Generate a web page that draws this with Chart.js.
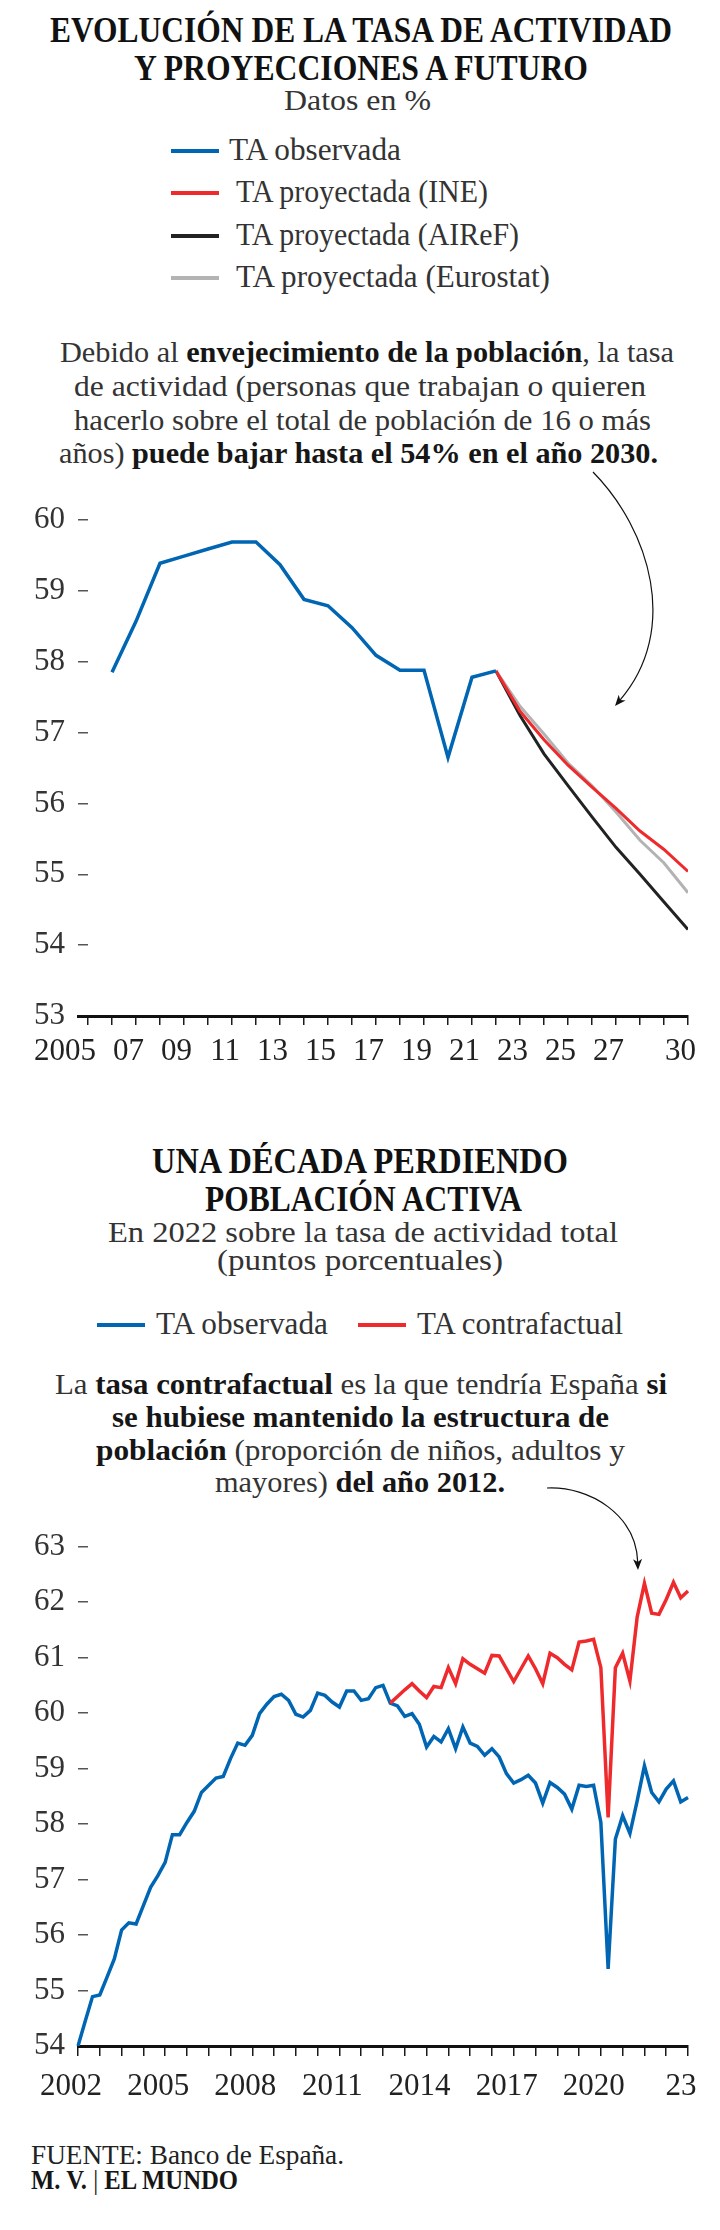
<!DOCTYPE html>
<html><head><meta charset="utf-8">
<script src="https://cdn.jsdelivr.net/npm/chart.js@4.4.1/dist/chart.umd.min.js"></script>
<style>
html,body{margin:0;padding:0;background:#fff;}
#page{position:relative;width:720px;height:2230px;overflow:hidden;background:#fff;font-family:'Liberation Serif',serif;color:#333;}
.t{position:absolute;white-space:nowrap;line-height:1;transform-origin:0 0;}
.t b{font-weight:700;color:#161616;}
.ttl{font-weight:700;color:#111;}
.sw{position:absolute;height:4px;width:48px;}
.cv{position:absolute;left:0;}
svg{position:absolute;left:0;top:0;}
</style></head>
<body><div id="page">

<div class="t ttl" style="left:50px;top:12.7px;font-size:35px" data-w="622">EVOLUCIÓN DE LA TASA DE ACTIVIDAD</div>
<div class="t ttl" style="left:134px;top:50.7px;font-size:35px" data-w="454">Y PROYECCIONES A FUTURO</div>
<div class="t" style="left:284px;top:85px;font-size:30px" data-w="147">Datos en %</div>

<div class="sw" style="left:171px;top:149px;background:#0065b3"></div>
<div class="t" style="left:229px;top:134px;font-size:31px" data-w="172">TA observada</div>
<div class="sw" style="left:171px;top:191px;background:#ee2a2d"></div>
<div class="t" style="left:236px;top:176px;font-size:31px" data-w="252">TA proyectada (INE)</div>
<div class="sw" style="left:171px;top:234px;background:#222"></div>
<div class="t" style="left:236px;top:219px;font-size:31px" data-w="283">TA proyectada (AIReF)</div>
<div class="sw" style="left:171px;top:276px;background:#b3b3b3"></div>
<div class="t" style="left:236px;top:261px;font-size:31px" data-w="314">TA proyectada (Eurostat)</div>

<div class="t" style="left:60px;top:336.9px;font-size:30px" data-w="614">Debido al <b>envejecimiento de la población</b>, la tasa</div>
<div class="t" style="left:74px;top:370.9px;font-size:30px" data-w="572">de actividad (personas que trabajan o quieren</div>
<div class="t" style="left:74px;top:404.9px;font-size:30px" data-w="577">hacerlo sobre el total de población de 16 o más</div>
<div class="t" style="left:59px;top:437.9px;font-size:30px" data-w="599">años) <b>puede bajar hasta el 54% en el año 2030.</b></div>

<div class="cv" style="top:480px;width:720px;height:600px"><canvas id="c1" width="720" height="600"></canvas></div>

<div class="t ttl" style="left:152px;top:1143.7px;font-size:35px" data-w="416">UNA DÉCADA PERDIENDO</div>
<div class="t ttl" style="left:205px;top:1181.7px;font-size:35px" data-w="317">POBLACIÓN ACTIVA</div>
<div class="t" style="left:108px;top:1217px;font-size:30px" data-w="510">En 2022 sobre la tasa de actividad total</div>
<div class="t" style="left:217px;top:1245px;font-size:30px" data-w="286">(puntos porcentuales)</div>

<div class="sw" style="left:97px;top:1323px;background:#0065b3"></div>
<div class="t" style="left:156px;top:1308px;font-size:31px" data-w="172">TA observada</div>
<div class="sw" style="left:358px;top:1323px;background:#ee2a2d"></div>
<div class="t" style="left:417px;top:1308px;font-size:31px" data-w="206">TA contrafactual</div>

<div class="t" style="left:55px;top:1368.9px;font-size:30px" data-w="612">La <b>tasa contrafactual</b> es la que tendría España <b>si</b></div>
<div class="t" style="left:112px;top:1401.9px;font-size:30px" data-w="497"><b>se hubiese mantenido la estructura de</b></div>
<div class="t" style="left:96px;top:1434.9px;font-size:30px" data-w="529"><b>población</b> (proporción de niños, adultos y</div>
<div class="t" style="left:215px;top:1466.9px;font-size:30px" data-w="290">mayores) <b>del año 2012.</b></div>

<div class="cv" style="top:1510px;width:720px;height:610px"><canvas id="c2" width="720" height="610"></canvas></div>

<div class="t" style="left:31px;top:2142.4px;font-size:27px;color:#222" data-w="313">FUENTE: Banco de España.</div>
<div class="t" style="left:31px;top:2167.4px;font-size:27px;color:#111" data-w="207"><b>M. V.</b> | <b>EL MUNDO</b></div>

<svg width="720" height="2230" viewBox="0 0 720 2230">
  <path d="M593,472 C650,530 680,630 620.2,699.9" fill="none" stroke="#111" stroke-width="1.2"/>
  <polygon points="615,706 625.6,700.6 620.2,699.9 618.7,694.7" fill="#111"/>
  <path d="M547,1488 C590,1486 636,1515 637.7,1562" fill="none" stroke="#111" stroke-width="1.2"/>
  <polygon points="638,1570 642.1,1558.8 637.7,1562 633.1,1559.2" fill="#111"/>
</svg>
</div>

<script>
// ---------- Chart 1 data ----------
const obsYears1 = [2006,2007,2008,2009,2010,2011,2012,2013,2014,2015,2016,2017,2018,2019,2020,2021,2022];
const obsValues1 = [57.85,58.57,59.39,59.49,59.59,59.69,59.69,59.37,58.88,58.79,58.48,58.09,57.88,57.88,56.65,57.78,57.87];
const projYears1 = [2022,2023,2024,2025,2026,2027,2028,2029,2030];
const ineValues1 = [57.87,57.30,56.90,56.54,56.23,55.93,55.61,55.35,55.04];
const airefValues1 = [57.87,57.24,56.70,56.25,55.81,55.38,55.00,54.61,54.22];
const eurostatValues1 = [57.87,57.37,56.98,56.57,56.25,55.88,55.48,55.16,54.74];
const xLabelYears1 = [2005,2007,2009,2011,2013,2015,2017,2019,2021,2023,2025,2027,2030];
const xLabelText1 = ['2005','07','09','11','13','15','17','19','21','23','25','27','30'];
const yTicks1 = [53,54,55,56,57,58,59,60];

// ---------- Chart 2 data (quarterly, 2002T1 - 2023T1) ----------
const firstYear2 = 2002;
const quarterCount2 = 85;
const observed2 = [
 54.00,54.45,54.89,54.92,55.24,55.57,56.09,56.22,56.20,56.53,
 56.86,57.07,57.31,57.81,57.81,58.03,58.23,58.57,58.70,58.83,
 58.86,59.18,59.46,59.42,59.60,59.99,60.16,60.30,60.34,60.23,
 59.98,59.93,60.05,60.36,60.32,60.20,60.11,60.40,60.40,60.23,
 60.26,60.46,60.50,60.18,60.13,59.94,59.99,59.80,59.39,59.58,
 59.48,59.72,59.36,59.75,59.46,59.40,59.24,59.36,59.21,58.91,
 58.74,58.80,58.88,58.74,58.38,58.75,58.66,58.54,58.27,58.70,
 58.68,58.70,58.03,55.39,57.73,58.15,57.83,58.42,59.05,58.57,
 58.40,58.63,58.78,58.40,58.48];
const counterfactualStart2 = 43;
const counterfactual2 = [
 60.18,60.30,60.42,60.53,60.40,60.28,60.48,60.46,60.82,60.53,
 60.98,60.88,60.80,60.72,61.04,61.03,60.80,60.57,60.80,61.03,
 60.80,60.53,61.08,61.00,60.88,60.78,61.28,61.30,61.33,60.82,
 58.12,60.82,61.08,60.58,61.73,62.34,61.80,61.78,62.05,62.36,
 62.08,62.20];
const xLabelYears2 = [2002,2005,2008,2011,2014,2017,2020,2023];
const xLabelText2 = ['2002','2005','2008','2011','2014','2017','2020','23'];
const yTicks2 = [54,55,56,57,58,59,60,61,62,63];

const quarterLabels2 = [];
for (let i = 0; i < quarterCount2; i++) quarterLabels2.push((firstYear2 + Math.floor(i/4)) + 'T' + (i%4+1));

// ---------- text fitting ----------
document.querySelectorAll('.t[data-w]').forEach(el => {
  const w = el.getBoundingClientRect().width;
  const target = parseFloat(el.dataset.w);
  if (w > 0) el.style.transform = 'scaleX(' + (target / w) + ')';
});

const FONT = "'Liberation Serif', serif";
const BLUE = '#0065b3', RED = '#ee2a2d', BLACK = '#222222', GREY = '#b3b3b3';

const common = {
  responsive: false, animation: false, events: [],
  elements: { point: { radius: 0 }, line: { tension: 0, borderCapStyle: 'butt', borderJoinStyle: 'miter' } },
  plugins: { legend: { display: false }, tooltip: { enabled: false } }
};

const xy = (xs, ys) => xs.map((x, i) => ({ x: x, y: ys[i] }));

new Chart(document.getElementById('c1'), {
  type: 'line',
  data: { datasets: [
    { label: 'TA observada', data: xy(obsYears1, obsValues1), borderColor: BLUE, borderWidth: 3.5 },
    { label: 'TA proyectada (INE)', data: xy(projYears1, ineValues1), borderColor: RED, borderWidth: 3 },
    { label: 'TA proyectada (Eurostat)', data: xy(projYears1, eurostatValues1), borderColor: GREY, borderWidth: 3 },
    { label: 'TA proyectada (AIReF)', data: xy(projYears1, airefValues1), borderColor: BLACK, borderWidth: 3 }
  ]},
  options: Object.assign({}, common, {
    layout: { padding: { top: 40, right: 32, bottom: 0, left: 0 } },
    scales: {
      x: {
        type: 'linear', min: 2004.583, max: 2030,
        afterBuildTicks(s) { const t = []; for (let y = 2005; y <= 2030; y++) t.push({ value: y }); s.ticks = t; },
        afterFit(s) { s.height = 64; s.paddingLeft = 0; s.paddingRight = 0; },
        grid: { drawOnChartArea: false, drawTicks: true, tickLength: 9, color: '#1a1a1a', lineWidth: 1.5 },
        border: { display: true, color: '#111', width: 3 },
        ticks: { autoSkip: false, maxRotation: 0, minRotation: 0, align: 'end', labelOffset: 8, padding: 8,
          color: '#222', font: { family: FONT, size: 31 },
          callback(v) { const i = xLabelYears1.indexOf(v); return i < 0 ? '' : xLabelText1[i]; } }
      },
      y: {
        min: 53, max: 60,
        afterBuildTicks(s) { s.ticks = yTicks1.map(v => ({ value: v })); },
        afterFit(s) { s.width = 78; s.paddingTop = 0; s.paddingBottom = 0; },
        grid: { drawOnChartArea: false, drawTicks: true, tickLength: -10, color: '#555', lineWidth: 1.5 },
        border: { display: false },
        ticks: { padding: 23, color: '#333', font: { family: FONT, size: 31 } }
      }
    }
  })
});

new Chart(document.getElementById('c2'), {
  type: 'line',
  data: { labels: quarterLabels2, datasets: [
    { label: 'TA contrafactual', data: quarterLabels2.map((q, i) => i < counterfactualStart2 ? null : counterfactual2[i - counterfactualStart2]), borderColor: RED, borderWidth: 3.5 },
    { label: 'TA observada', data: observed2, borderColor: BLUE, borderWidth: 3.5 }
  ]},
  options: Object.assign({}, common, {
    layout: { padding: { top: 36.7, right: 32, bottom: 0, left: 0 } },
    scales: {
      x: {
        type: 'category',
        afterFit(s) { s.height = 74; s.paddingLeft = 0; s.paddingRight = 0; },
        grid: { drawOnChartArea: false, drawTicks: true, tickLength: 10, lineWidth: 1.5,
          color: ctx => (ctx.index % 3 === 0 ? '#1a1a1a' : 'rgba(0,0,0,0)') },
        border: { display: true, color: '#111', width: 3 },
        ticks: { autoSkip: false, maxRotation: 0, minRotation: 0, labelOffset: -7, padding: 12,
          color: '#222', font: { family: FONT, size: 31 },
          callback(v, i) {
            const k = xLabelYears2.findIndex(y => quarterLabels2.indexOf(y + 'T1') === i);
            return k < 0 ? '' : xLabelText2[k];
          } }
      },
      y: {
        min: 54, max: 63,
        afterBuildTicks(s) { s.ticks = yTicks2.map(v => ({ value: v })); },
        afterFit(s) { s.width = 78; s.paddingTop = 0; s.paddingBottom = 0; },
        grid: { drawOnChartArea: false, drawTicks: true, tickLength: -10, color: '#555', lineWidth: 1.5 },
        border: { display: false },
        ticks: { padding: 23, color: '#333', font: { family: FONT, size: 31 } }
      }
    }
  })
});
</script>
</body></html>
